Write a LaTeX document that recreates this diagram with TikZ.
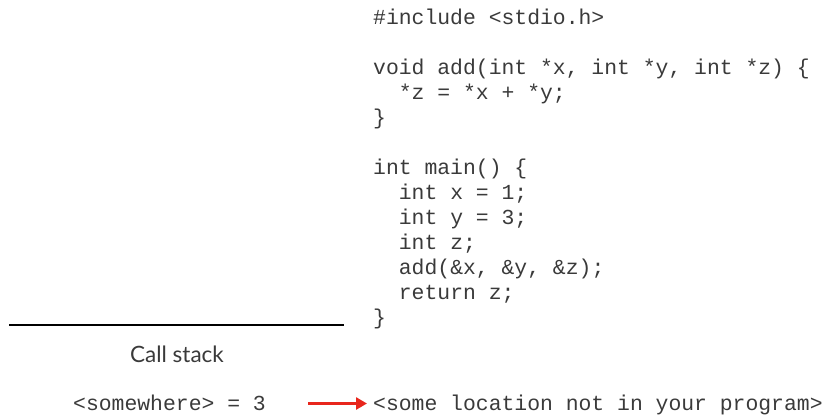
\documentclass[tikz,border=0pt]{standalone}
\usepackage{fontspec}
\setmonofont{Liberation Mono}
\newfontfamily\labelfont{Lato}
\usetikzlibrary{arrows.meta}
\definecolor{codegray}{HTML}{3A3A3A}
\definecolor{arrowred}{HTML}{E8261C}
\begin{document}
\begin{tikzpicture}[x=1pt,y=-1pt,
  code/.style={anchor=base west,inner sep=0pt,text=codegray,
    font=\ttfamily\fontsize{21.4}{25}\selectfont},
  caption/.style={anchor=base,inner sep=0pt,text=codegray,
    font=\labelfont\fontsize{22.5}{26}\selectfont},
  pointer/.style={draw=arrowred,line width=2.6pt,
    -{Triangle[length=11pt,width=12pt]}}]
\useasboundingbox (0,0) rectangle (827,416);
% source listing
\def\indent{25.7}
\node[code] (l1)  at (373,24)  {\#include <stdio.h>};
\node[code] (l2)  at (373,74)  {void add(int *x, int *y, int *z) \{};
\node[code] (l3)  at (373+\indent,99) {*z = *x + *y;};
\node[code] (l4)  at (373,124) {\}};
\node[code] (l5)  at (373,174) {int main() \{};
\node[code] (l6)  at (373+\indent,199) {int x = 1;};
\node[code] (l7)  at (373+\indent,224) {int y = 3;};
\node[code] (l8)  at (373+\indent,249) {int z;};
\node[code] (l9)  at (373+\indent,274) {add(\&x, \&y, \&z);};
\node[code] (l10) at (373+\indent,299) {return z;};
\node[code] (l11) at (373,324) {\}};
% call stack
\coordinate (stackL) at (9,325);
\coordinate (stackR) at (344,325);
\draw[line width=2.4pt,black] (stackL) -- (stackR);
\node[caption] (title) at (177,362) {Call stack};
\node[code] (frame) at (73,410) {<somewhere> = 3};
\node[code] (dest) at (373,410) {<some location not in your program>};
\coordinate (ptrStart) at (308,403.5);
\draw[pointer,shorten >=6pt] (ptrStart) -- (dest.west |- ptrStart);
\end{tikzpicture}
\end{document}
